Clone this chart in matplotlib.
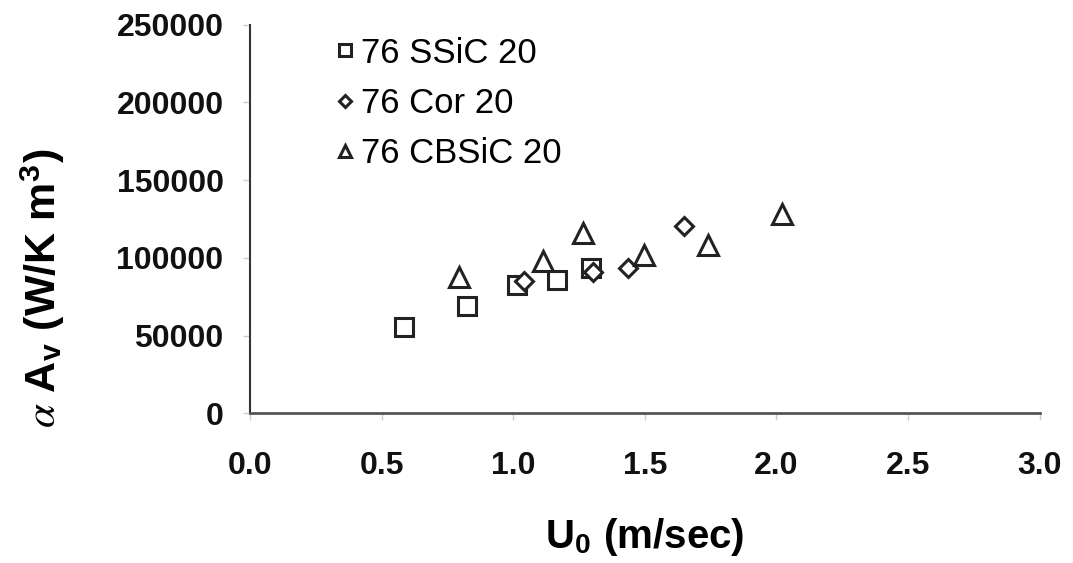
import numpy as np
import matplotlib.pyplot as plt

plt.rcParams['font.family'] = ['Liberation Sans', 'DejaVu Sans']
plt.rcParams['mathtext.fontset'] = 'stix'

# 76 SSiC 20
ssic_u = [0.585, 0.824, 1.014, 1.166, 1.295]
ssic_a = [55500, 69000, 82500, 85700, 93400]
# 76 Cor 20
cor_u = [1.041, 1.303, 1.436, 1.648]
cor_a = [85000, 90800, 93400, 120500]
# 76 CBSiC 20
cbsic_u = [0.794, 1.113, 1.265, 1.496, 1.739, 2.020]
cbsic_a = [87500, 98000, 116000, 102000, 108500, 128000]

x_ticks = [0.0, 0.5, 1.0, 1.5, 2.0, 2.5, 3.0]
y_ticks = [0, 50000, 100000, 150000, 200000, 250000]

fig = plt.figure(figsize=(10.73, 5.63), dpi=100)
ax = fig.add_axes([0.233, 0.266, 0.736, 0.690])

ax.plot(ssic_u, ssic_a, linestyle='none', marker='s', ms=13, mfc='white',
        mec='#222222', mew=2.2, label='76 SSiC 20')
ax.plot(cor_u, cor_a, linestyle='none', marker='D', ms=9, mfc='white',
        mec='#222222', mew=2.2, label='76 Cor 20')
ax.plot(cbsic_u, cbsic_a, linestyle='none', marker='^', ms=14, mfc='white',
        mec='#222222', mew=2.2, label='76 CBSiC 20')

ax.set_xlim(0, 3.0)
ax.set_ylim(0, 250000)
ax.set_xticks(x_ticks)
ax.set_xticklabels(['%.1f' % t for t in x_ticks])
ax.set_yticks(y_ticks)
ax.set_yticklabels([str(t) for t in y_ticks])

for s in ['top', 'right']:
    ax.spines[s].set_visible(False)
ax.spines['left'].set_color('#333333')
ax.spines['bottom'].set_color('#555555')
ax.spines['left'].set_linewidth(1.5)
ax.spines['bottom'].set_linewidth(2.0)
ax.tick_params(direction='out', length=5, width=1, color='#cccccc',
               labelsize=23, labelcolor='#111111')
ax.tick_params(axis='x', pad=22)
ax.tick_params(axis='y', pad=14)
for lab in ax.get_xticklabels() + ax.get_yticklabels():
    lab.set_fontweight('bold')

ax.set_xlabel(r'U$_\mathregular{0}$ (m/sec)', fontsize=29, fontweight='bold')
ax.xaxis.set_label_coords(0.5, -0.265)
ax.set_ylabel(r'$\alpha$ A$_\mathregular{v}$ (W/K m$^\mathregular{3}$)',
              fontsize=31, fontweight='bold')
ax.yaxis.set_label_coords(-0.232, 0.321)

leg = ax.legend(loc='upper left', bbox_to_anchor=(0.07, 1.05), frameon=False,
                fontsize=25, handlelength=0.5, handletextpad=0.2,
                labelspacing=0.5, markerscale=0.65)

fig.savefig('out.png', dpi=100)
